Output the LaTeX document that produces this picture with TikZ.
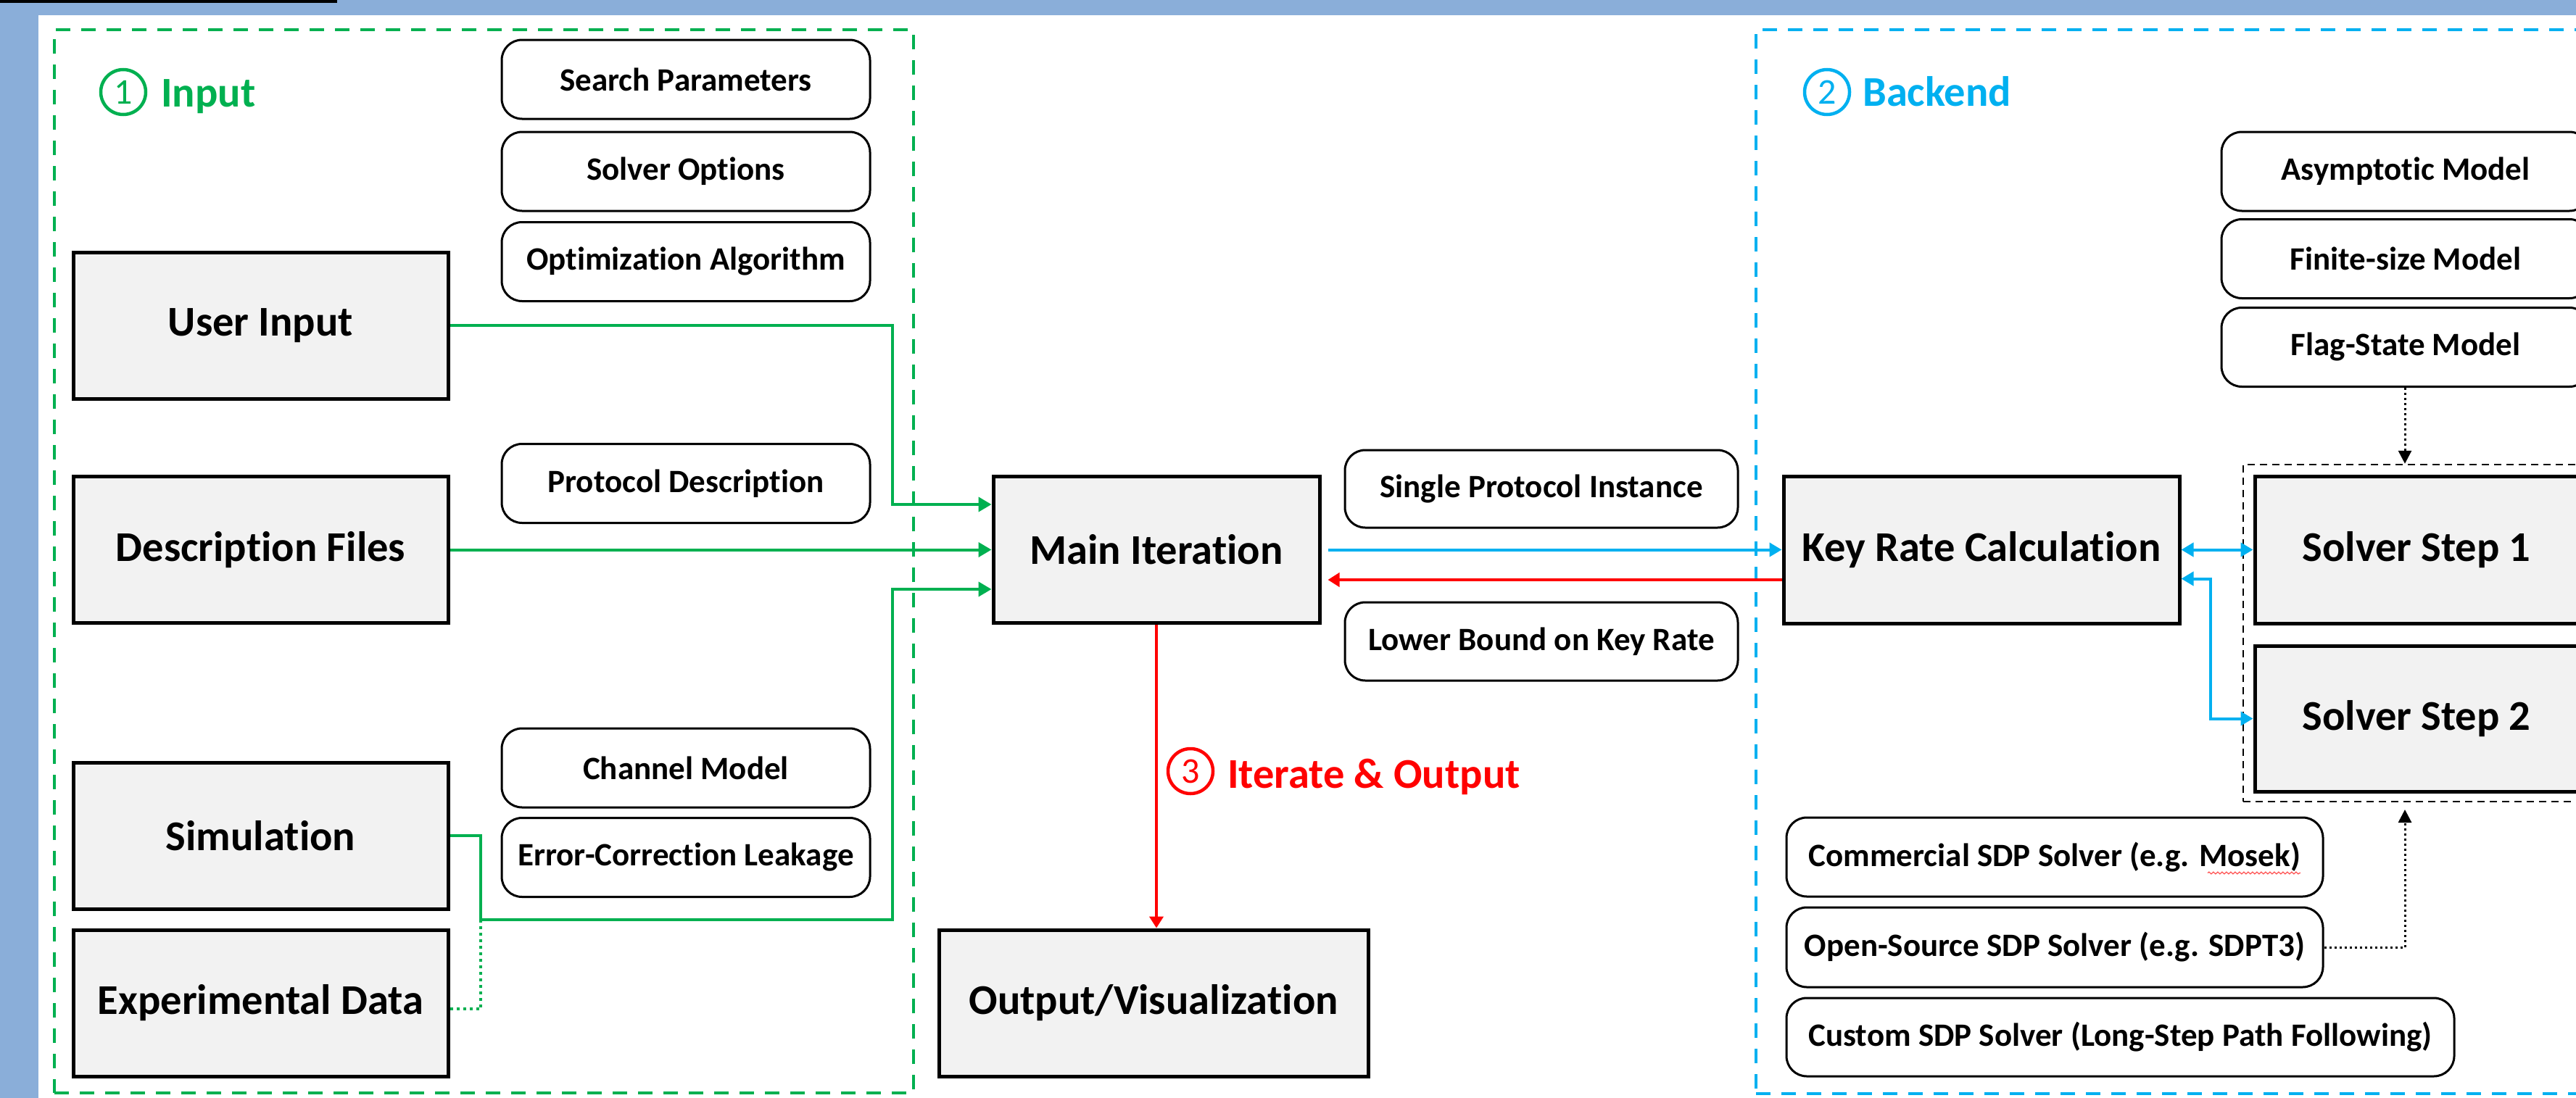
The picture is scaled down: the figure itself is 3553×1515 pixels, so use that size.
\documentclass[tikz,border=0pt]{standalone}
\usepackage{fontspec}
\setmainfont{Carlito}[Ligatures={NoCommon}]
\usetikzlibrary{arrows.meta,decorations.pathmorphing,calc}
\definecolor{bgblue}{HTML}{8AAED9}
\definecolor{ggreen}{HTML}{00B050}
\definecolor{bblue}{HTML}{00B0F0}
\definecolor{rred}{HTML}{FF0000}
\definecolor{boxgray}{HTML}{F2F2F2}
\newcommand\bxfont{\fontsize{58.5}{62}\selectfont\bfseries}
\newcommand\smfont{\fontsize{45}{48}\selectfont\bfseries}
\newcommand\numfont{\fontsize{50}{52}\selectfont}
\tikzset{
  bigbox/.style={draw=black, line width=5pt, fill=boxgray, minimum width=517pt,
    minimum height=202pt, inner sep=0pt, font=\bxfont},
  smallbox/.style={draw=black, line width=3pt, rounded corners=28pt, fill=white,
    minimum width=508pt, minimum height=109pt, inner sep=0pt, font=\smfont},
  region/.style={line width=4.5pt, dash pattern=on 20pt off 15pt, inner sep=0pt},
  numcirc/.style={circle, line width=4.5pt, minimum size=62pt, inner sep=0pt, font=\numfont},
  seclabel/.style={anchor=base west, inner sep=0pt, font=\bxfont},
  gline/.style={draw=ggreen, line width=4pt},
  garrow/.style={gline, -{Triangle[length=18pt,width=20pt]}},
  gdots/.style={draw=ggreen, line width=4pt, dash pattern=on 4pt off 5pt},
  barrow/.style={draw=bblue, line width=4pt, -{Triangle[length=17pt,width=19pt]}},
  bdarrow/.style={draw=bblue, line width=4pt, {Triangle[length=17pt,width=19pt]}-{Triangle[length=17pt,width=19pt]}},
  rarrow/.style={draw=rred, line width=4pt, -{Triangle[length=16pt,width=19pt]}},
  kdots/.style={draw=black, line width=3pt, dash pattern=on 3pt off 4pt, -{Triangle[length=18pt,width=18pt]}},
}
\begin{document}
\begin{tikzpicture}[x=1pt,y=-1pt]
\useasboundingbox (0,0) rectangle (3553,1515);
\clip (0,0) rectangle (3553,1515);
% background
\fill[bgblue] (0,0) rectangle (3553,1515);
\fill[white] (53,21) rectangle (3560,1520);
\fill[black] (0,0) rectangle (465,4);

% regions
\node[region, draw=ggreen, minimum width=1185pt, minimum height=1467pt] (rin) at (667.5,774.5) {};
\node[region, draw=bblue, minimum width=1153pt, minimum height=1468pt] (rback) at (2998.5,775) {};

% section labels
\node[numcirc, draw=ggreen, text=ggreen] (n1) at (170,127) {1};
\node[seclabel, text=ggreen] (l1) at (222,147) {Input};
\node[numcirc, draw=bblue, text=bblue] (n2) at (2520,127) {2};
\node[seclabel, text=bblue] (l2) at (2569,146) {Backend};
\node[numcirc, draw=rred, text=rred] (n3) at (1642,1064) {3};
\node[seclabel, text=rred] (l3) at (1693,1087) {Iterate \& Output};

% input side
\node[smallbox] (sp) at (946,109.5) {Search Parameters};
\node[smallbox] (so) at (946,236.5) {Solver Options};
\node[smallbox] (oa) at (946,361) {Optimization Algorithm};
\node[smallbox] (pd) at (946,667) {Protocol Description};
\node[smallbox] (cmod) at (946,1059.5) {Channel Model};
\node[smallbox] (ecl) at (946,1183) {Error-Correction Leakage};

\node[bigbox] (ui) at (359.5,449) {User Input};
\node[bigbox] (df) at (359.5,758.5) {Description Files};
\node[bigbox] (sim) at (359.5,1153) {Simulation};
\node[bigbox] (exd) at (359.5,1384) {Experimental Data};

% middle
\node[bigbox, minimum width=450pt] (mi) at (1595,758.5) {Main Iteration};
\node[bigbox, minimum width=592pt] (out) at (1591,1384) {Output/Visualization};
\node[smallbox, minimum width=542pt, minimum height=107pt] (spi) at (2126,674.5) {Single Protocol Instance};
\node[smallbox, minimum width=542pt, minimum height=108pt] (lb) at (2126,885) {Lower Bound on Key Rate};

% backend
\node[smallbox] (am) at (3318,236.5) {Asymptotic Model};
\node[smallbox] (fm) at (3318,357) {Finite-size Model};
\node[smallbox] (fsm) at (3318,479) {Flag-State Model};
\node[draw=black, line width=2.5pt, dash pattern=on 10pt off 7pt, minimum width=481pt,
  minimum height=465pt, inner sep=0pt] (sbox) at (3334.5,873.5) {};
\node[bigbox, minimum width=546pt, minimum height=203pt] (krc) at (2733,758.5) {Key Rate Calculation};
\node[bigbox, minimum width=446pt, minimum height=203pt] (s1) at (3333,758.5) {Solver Step 1};
\node[bigbox, minimum width=446pt, minimum height=201pt] (s2) at (3333,991.5) {Solver Step 2};
\node[smallbox, minimum width=740pt] (cm) at (2834,1182.5) {Commercial SDP Solver (e.g. Mosek)};
\node[smallbox, minimum width=740pt, minimum height=110pt] (os) at (2834,1307) {Open-Source SDP Solver (e.g. SDPT3)};
\node[smallbox, minimum width=921pt, minimum height=108pt] (cs) at (2924.5,1431) {Custom SDP Solver (Long-Step Path Following)};
\draw[rred!70, line width=1.2pt, decorate, decoration={snake, amplitude=1.4pt, segment length=6pt}]
  ($(cm.center)+(211,22)$) -- ($(cm.center)+(339,22)$);

% helper coordinates
\coordinate (gx) at (1231,0);
\coordinate (jn) at (663,1269);
\coordinate (bx) at (3049,0);
\coordinate (tipb) at (3317,1117);

% green connectors
\draw[garrow] (ui.east) -- (ui.east -| gx) |- ([yshift=62.5pt]mi.west);
\draw[garrow] (df.east) -- (mi.west);
\draw[gline] (sim.east) -| (jn);
\draw[garrow] (jn) -- (jn -| gx) |- ([yshift=-54.5pt]mi.west);
\draw[gdots] ([yshift=-8pt]exd.east) -| (jn);

% blue / red connectors
\draw[barrow] ([xshift=9pt]mi.east) -- (krc.west);
\draw[rarrow] ([yshift=-41.5pt]krc.west) -- ([xshift=9pt,yshift=-41.5pt]mi.east);
\draw[rarrow] (mi.south) -- (mi.south |- out.north);
\draw[bdarrow] (krc.east) -- (s1.west);
\draw[bdarrow] ([yshift=-40pt]krc.east) -- ([yshift=-40pt]krc.east -| bx) |- (s2.west);

% black dotted connectors
\draw[kdots] (fsm.south -| tipb) -- (tipb |- sbox.north);
\draw[kdots] (os.east) -| (tipb);
\end{tikzpicture}
\end{document}
